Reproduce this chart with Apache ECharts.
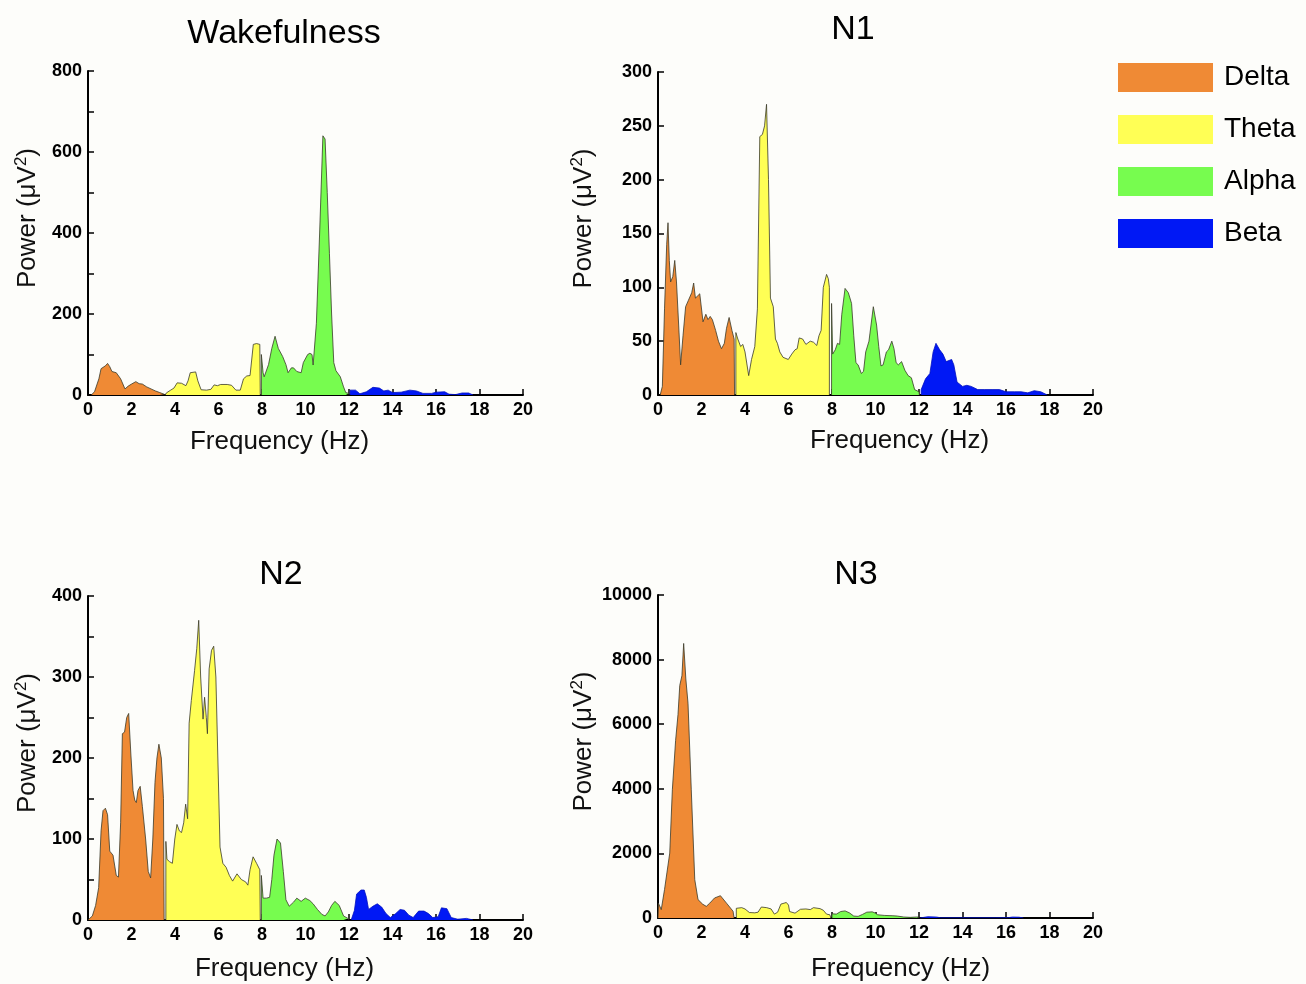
<html>
<head>
    <title>EEG power spectra</title>
    <meta http-equiv="Content-Type" content="text/html; charset=utf-8" />
    <style>body{margin:0;background:#fdfdfa;}</style>
</head>
<body>
<div id="chart" style="width:1306px;height:984px"></div>
</body>
<script type="text/javascript" src="https://cdn.jsdelivr.net/npm/echarts@6/dist/echarts.min.js"></script>
<script type="text/javascript">
// band names and fill colours
var bands = ['Delta', 'Theta', 'Alpha', 'Beta'];
var bandColors = ['#ef8a35', '#ffff55', '#77fc4f', '#0018f5'];
var panelTitles = ['Wakefulness', 'N1', 'N2', 'N3'];

// [frequency Hz, power uV^2]
// Wakefulness
var wakeDelta = [[0.15,0],[0.3,8],[0.5,40],[0.6,65],[0.8,72],[0.9,78],[1.0,70],[1.1,58],[1.3,55],[1.5,40],[1.7,15],[1.85,22],[2.0,27],[2.2,33],[2.35,28],[2.5,27],[2.7,20],[2.9,15],[3.1,10],[3.3,6],[3.5,2],[3.55,0]];
var wakeTheta = [[3.55,0],[3.6,5],[3.8,12],[3.95,17],[4.1,30],[4.3,29],[4.5,23],[4.6,35],[4.7,55],[4.95,57],[5.05,35],[5.2,13],[5.45,12],[5.65,14],[5.8,25],[5.95,23],[6.1,26],[6.4,26],[6.6,24],[6.8,12],[7.0,12],[7.15,40],[7.3,47],[7.45,48],[7.6,125],[7.75,127],[7.9,125],[7.92,0]];
var wakeAlpha = [[7.97,0],[7.97,100],[8.05,55],[8.1,45],[8.3,75],[8.45,115],[8.6,145],[8.75,115],[8.95,95],[9.1,75],[9.2,55],[9.35,67],[9.45,67],[9.6,58],[9.8,55],[9.9,80],[10.1,100],[10.2,103],[10.3,100],[10.35,74],[10.5,177],[10.65,400],[10.8,640],[10.9,632],[11.0,500],[11.1,350],[11.2,200],[11.3,80],[11.4,60],[11.6,45],[11.75,20],[11.85,6],[12.0,4],[12.0,0]];
var wakeBeta = [[12.05,0],[12.05,12],[12.3,12],[12.5,3],[12.8,8],[13.1,19],[13.4,17],[13.6,10],[13.8,12],[14.0,6],[14.4,7],[14.8,12],[15.1,10],[15.4,4],[15.8,4],[16.0,7],[16.4,8],[16.6,2],[16.9,1],[17.2,5],[17.5,5],[17.7,0]];
// N1
var n1Delta = [[0.1,0],[0.2,8],[0.3,80],[0.4,140],[0.46,160],[0.52,125],[0.58,105],[0.68,110],[0.77,125],[0.85,105],[0.95,65],[1.04,28],[1.15,55],[1.27,82],[1.4,88],[1.55,95],[1.64,104],[1.72,90],[1.82,92],[1.92,94],[2.07,68],[2.2,75],[2.3,70],[2.4,73],[2.5,70],[2.65,60],[2.78,50],[2.92,43],[3.05,48],[3.15,62],[3.27,72],[3.4,60],[3.5,52],[3.52,0]];
var n1Theta = [[3.58,0],[3.58,58],[3.67,52],[3.8,45],[3.9,47],[4.0,40],[4.17,18],[4.3,33],[4.45,45],[4.57,80],[4.68,240],[4.8,242],[4.9,250],[4.99,270],[5.08,200],[5.17,90],[5.3,82],[5.4,52],[5.49,48],[5.6,40],[5.75,35],[5.99,33],[6.15,38],[6.3,42],[6.4,43],[6.49,53],[6.65,52],[6.8,47],[7.0,50],[7.15,49],[7.3,46],[7.4,55],[7.5,60],[7.6,100],[7.75,112],[7.83,108],[7.88,100],[7.88,0]];
var n1Alpha = [[7.98,0],[7.98,85],[8.03,38],[8.15,42],[8.25,48],[8.35,47],[8.45,75],[8.6,99],[8.75,95],[8.9,85],[9.0,55],[9.1,30],[9.2,28],[9.35,20],[9.45,22],[9.55,40],[9.7,50],[9.9,82],[10.05,65],[10.15,45],[10.25,27],[10.35,28],[10.5,40],[10.6,42],[10.75,50],[10.85,43],[10.95,30],[11.05,28],[11.2,31],[11.35,23],[11.5,18],[11.65,16],[11.8,5],[12.0,3],[12.02,0]];
var n1Beta = [[12.1,0],[12.1,5],[12.3,15],[12.5,20],[12.65,40],[12.78,48],[12.95,42],[13.1,38],[13.25,31],[13.5,33],[13.6,28],[13.75,12],[14.0,8],[14.2,9],[14.4,8],[14.7,5],[15.0,5],[15.4,5],[15.7,5],[16.0,3],[16.4,3],[16.7,3],[17.0,2],[17.3,4],[17.6,3],[17.9,0]];
// N2
var n2Delta = [[0,0],[0.05,2],[0.2,5],[0.35,18],[0.49,40],[0.6,110],[0.69,135],[0.8,138],[0.9,130],[1.0,85],[1.15,80],[1.3,55],[1.4,53],[1.5,120],[1.58,230],[1.68,232],[1.78,250],[1.87,255],[1.97,205],[2.07,160],[2.15,148],[2.22,145],[2.3,160],[2.4,165],[2.5,140],[2.65,100],[2.77,60],[2.88,52],[2.98,100],[3.08,170],[3.17,200],[3.26,217],[3.37,200],[3.47,150],[3.5,0]];
var n2Theta = [[3.58,0],[3.58,97],[3.63,75],[3.75,72],[3.88,70],[3.99,100],[4.09,118],[4.2,110],[4.3,108],[4.4,120],[4.49,143],[4.58,125],[4.65,243],[4.75,271],[4.9,308],[5.0,335],[5.09,370],[5.18,300],[5.29,248],[5.36,275],[5.44,250],[5.49,230],[5.57,310],[5.68,333],[5.78,338],[5.88,300],[5.97,200],[6.07,90],[6.2,70],[6.35,65],[6.5,55],[6.65,48],[6.85,57],[7.05,50],[7.25,47],[7.35,43],[7.45,62],[7.59,78],[7.75,70],[7.9,62],[7.92,0]];
var n2Alpha = [[7.97,0],[7.97,55],[8.05,27],[8.2,27],[8.35,28],[8.45,50],[8.55,80],[8.69,100],[8.85,95],[8.98,60],[9.1,25],[9.25,17],[9.45,22],[9.6,27],[9.8,23],[9.99,27],[10.2,24],[10.35,20],[10.55,13],[10.75,7],[10.9,5],[11.05,10],[11.2,18],[11.35,23],[11.55,18],[11.75,5],[11.95,2],[12.0,0]];
var n2Beta = [[12.1,0],[12.1,2],[12.25,12],[12.35,32],[12.55,37],[12.7,37],[12.8,28],[12.9,13],[13.1,17],[13.3,20],[13.5,16],[13.7,8],[13.9,3],[14.15,8],[14.35,13],[14.55,12],[14.75,6],[14.95,3],[15.2,11],[15.45,11],[15.65,8],[15.85,3],[16.1,4],[16.25,15],[16.5,14],[16.7,3],[17.0,1],[17.4,2],[17.7,0]];
// N3
var n3Delta = [[0,0],[0.02,460],[0.15,260],[0.3,880],[0.54,2010],[0.66,3970],[0.81,5500],[0.92,6300],[1.0,7200],[1.1,7500],[1.18,8500],[1.28,7400],[1.38,6650],[1.53,3970],[1.69,1190],[1.84,570],[2.05,430],[2.22,360],[2.38,460],[2.6,620],[2.87,690],[3.15,460],[3.45,210],[3.5,0]];
var n3Theta = [[3.6,0],[3.6,300],[3.85,320],[4.0,280],[4.2,170],[4.45,160],[4.6,180],[4.75,340],[5.0,320],[5.2,280],[5.35,120],[5.5,180],[5.65,430],[5.9,480],[6.0,400],[6.05,200],[6.3,150],[6.55,270],[6.8,280],[7.0,260],[7.15,320],[7.45,290],[7.6,240],[7.75,120],[7.9,100],[7.95,0]];
var n3Alpha = [[8.0,0],[8.0,130],[8.2,120],[8.4,200],[8.6,220],[8.8,160],[9.0,60],[9.2,50],[9.4,110],[9.6,180],[9.85,190],[10.0,150],[10.1,100],[10.4,80],[10.8,70],[11.0,60],[11.3,30],[11.6,20],[11.9,30],[12.0,30],[12.0,0]];
var n3Beta = [[12.05,0],[12.05,30],[12.4,40],[12.8,30],[13.0,5],[14.0,5],[15.5,5],[16.1,10],[16.3,30],[16.6,25],[16.8,0]];

var panelData = [
    [wakeDelta, wakeTheta, wakeAlpha, wakeBeta],
    [n1Delta, n1Theta, n1Alpha, n1Beta],
    [n2Delta, n2Theta, n2Alpha, n2Beta],
    [n3Delta, n3Theta, n3Alpha, n3Beta]
];
// y axis: max, tick step, label step
var yMax = [800, 300, 400, 10000];
var yTick = [100, 50, 50, 2000];
var yLabelStep = [200, 50, 100, 2000];

var font = 'Liberation Sans, Arial, sans-serif';
var grids = [
    {left: 88, top: 71, width: 435, height: 324},
    {left: 658, top: 72, width: 435, height: 323},
    {left: 88, top: 596, width: 435, height: 324},
    {left: 658, top: 595, width: 435, height: 323}
];
var titlePos = [[284, 17], [853, 13], [281, 558], [856, 558]];
var xNameGap = [34, 33, 36, 38];
var xNameShift = [-26, 24, -21, 25];
var yNameGap = [46, 60, 46, 60];

var myChart = echarts.init(document.getElementById('chart'));

var xAxes = [], yAxes = [], series = [], titles = [];
for (var p = 0; p < 4; p++) {
    titles.push({
        text: panelTitles[p], left: titlePos[p][0], top: titlePos[p][1], textAlign: 'center', padding: 0,
        textStyle: {fontFamily: font, fontSize: 34, fontWeight: 'normal', color: '#000'}
    });
    xAxes.push({
        gridIndex: p, type: 'value', min: 0, max: 20, interval: 2,
        name: 'Frequency (Hz)', nameLocation: 'middle', nameGap: xNameGap[p],
        nameTextStyle: {fontFamily: font, fontSize: 26, color: '#111',
            padding: xNameShift[p] < 0 ? [0, -2 * xNameShift[p], 0, 0] : [0, 0, 0, 2 * xNameShift[p]]},
        splitLine: {show: false},
        axisLine: {lineStyle: {color: '#000', width: 2}},
        axisTick: {inside: true, length: 6, lineStyle: {color: '#000', width: 1.5}},
        axisLabel: {fontFamily: font, fontSize: 18, fontWeight: 'bold', color: '#000', margin: 6}
    });
    (function (step) {
        yAxes.push({
            gridIndex: p, type: 'value', min: 0, max: yMax[p], interval: yTick[p],
            name: 'Power (\u03bcV{s|2})', nameLocation: 'middle', nameGap: yNameGap[p],
            nameTextStyle: {fontFamily: font, fontSize: 26, color: '#111', padding: [0, 0, 0, 30],
                rich: {s: {fontSize: 17, verticalAlign: 'top', padding: [0, 0, 12, 0]}}},
            splitLine: {show: false},
            axisLine: {show: true, lineStyle: {color: '#000', width: 2}},
            axisTick: {inside: true, length: 6, lineStyle: {color: '#000', width: 1.5}},
            axisLabel: {fontFamily: font, fontSize: 18, fontWeight: 'bold', color: '#000', margin: 6,
                formatter: function (v) { return v % step === 0 ? v : ''; }}
        });
    })(yLabelStep[p]);
    for (var b = 0; b < 4; b++) {
        series.push({
            name: bands[b], type: 'line', xAxisIndex: p, yAxisIndex: p,
            data: panelData[p][b], symbol: 'none', silent: true,
            itemStyle: {color: bandColors[b]},
            lineStyle: {color: b === 3 ? '#0010c0' : '#3a3a2a', width: 0.8},
            areaStyle: {color: bandColors[b], opacity: 1},
            z: 2
        });
    }
}

var option = {
    backgroundColor: '#fdfdfa',
    animation: false,
    title: titles,
    grid: grids,
    legend: {
        data: bands, orient: 'vertical', left: 1113, top: 58,
        icon: 'rect', itemWidth: 95, itemHeight: 29, itemGap: 23,
        itemStyle: {borderWidth: 0},
        textStyle: {fontFamily: font, fontSize: 28, color: '#000', padding: [0, 0, 0, 6]}
    },
    xAxis: xAxes,
    yAxis: yAxes,
    series: series
};
myChart.setOption(option);
</script>
</html>
